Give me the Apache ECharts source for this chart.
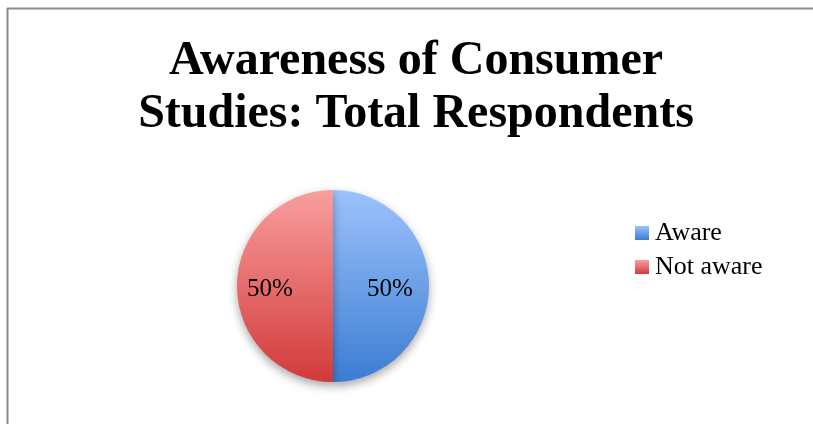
<!DOCTYPE html>
<html><head><meta charset="utf-8">
<script src="https://cdn.jsdelivr.net/npm/echarts@6/dist/echarts.min.js"></script>
<style>html,body{margin:0;padding:0;background:#fff}#c{width:813px;height:424px}</style>
</head><body><div id="c"></div>
<script>
const titleText = "Awareness of Consumer\nStudies: Total Respondents";
const categories = ["Aware", "Not aware"];
const values = [50, 50];

const gradients = [
  ["#9dc2fb", "#3b7dd3"],
  ["#f99e9e", "#d13a39"]
];
const labelOffsets = [[6, 3], [-12, 3]];

const chart = echarts.init(document.getElementById('c'), null, {renderer: 'canvas'});
const serif = "'Liberation Serif','Times New Roman',serif";
chart.setOption({
  animation: false,
  title: {
    text: titleText,
    left: 411, top: 30, textAlign: 'center',
    textStyle: {fontFamily: serif, fontWeight: 'bold', fontSize: 48, lineHeight: 53, color: '#000'}
  },
  legend: {
    orient: 'vertical', left: 635, top: 220, padding: 0,
    icon: 'rect', itemWidth: 14, itemHeight: 14, itemGap: 8,
    textStyle: {fontFamily: serif, fontSize: 26, lineHeight: 26, color: '#000', padding: [0, 0, 0, 1]},
    data: categories
  },
  graphic: [
    {type: 'line', shape: {x1: 7.5, y1: 8, x2: 7.5, y2: 424}, style: {stroke: '#8a8a8a', lineWidth: 2}},
    {type: 'line', shape: {x1: 7, y1: 8.5, x2: 813, y2: 8.5}, style: {stroke: '#8a8a8a', lineWidth: 2}}
  ],
  series: [{
    type: 'pie',
    center: [333, 286], radius: 96,
    startAngle: 90, clockwise: true,
    label: {show: true, position: 'inside', formatter: '{d}%', fontFamily: serif, fontSize: 25, color: '#000'},
    labelLine: {show: false},
    itemStyle: {shadowBlur: 10, shadowOffsetY: 4, shadowColor: 'rgba(0,0,0,0.35)'},
    emphasis: {disabled: true},
    data: categories.map((n, i) => ({
      name: n, value: values[i],
      label: {offset: labelOffsets[i]},
      itemStyle: {color: new echarts.graphic.LinearGradient(0, 0, 0, 1, [
        {offset: 0, color: gradients[i][0]}, {offset: 1, color: gradients[i][1]}])}
    }))
  }]
});
</script></body></html>
